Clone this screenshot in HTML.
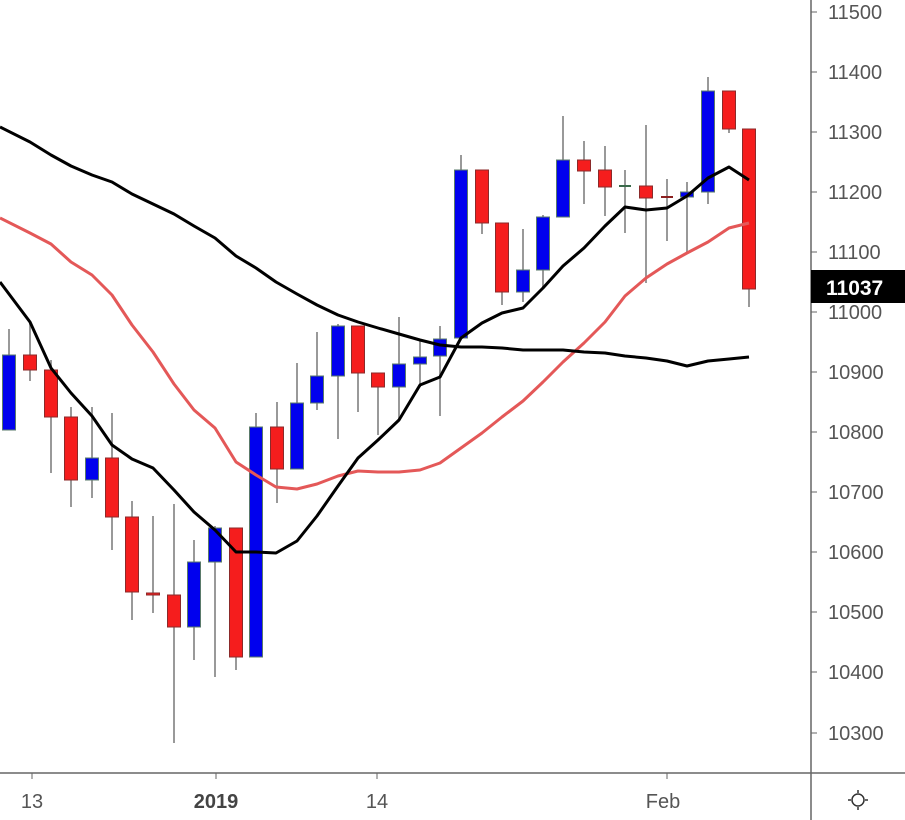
<!DOCTYPE html><html><head><style>body{margin:0;background:#fff}svg{display:block}text{font-family:"Liberation Sans",sans-serif}</style></head><body>
<svg width="905" height="820" xmlns="http://www.w3.org/2000/svg">
<rect width="905" height="820" fill="#fff"/>
<g stroke="#999" stroke-width="2">
<line x1="9" x2="9" y1="329" y2="430"/><line x1="30" x2="30" y1="322" y2="381"/><line x1="51" x2="51" y1="360" y2="473"/><line x1="71" x2="71" y1="407" y2="507"/><line x1="92" x2="92" y1="407" y2="498"/><line x1="112" x2="112" y1="413" y2="550"/><line x1="132" x2="132" y1="501" y2="620"/><line x1="153" x2="153" y1="516" y2="613"/><line x1="174" x2="174" y1="504" y2="743"/><line x1="194" x2="194" y1="540" y2="660"/><line x1="215" x2="215" y1="526" y2="677"/><line x1="236" x2="236" y1="528" y2="670"/><line x1="256" x2="256" y1="413" y2="657"/><line x1="277" x2="277" y1="402" y2="503"/><line x1="297" x2="297" y1="363" y2="469"/><line x1="317" x2="317" y1="332" y2="410"/><line x1="338" x2="338" y1="324" y2="439"/><line x1="358" x2="358" y1="326" y2="412"/><line x1="378" x2="378" y1="373" y2="435"/><line x1="399" x2="399" y1="317" y2="420"/><line x1="420" x2="420" y1="341" y2="387"/><line x1="440" x2="440" y1="326" y2="416"/><line x1="461" x2="461" y1="155" y2="338"/><line x1="482" x2="482" y1="170" y2="234"/><line x1="502" x2="502" y1="223" y2="305"/><line x1="523" x2="523" y1="229" y2="302"/><line x1="543" x2="543" y1="215" y2="288"/><line x1="563" x2="563" y1="116" y2="217"/><line x1="584" x2="584" y1="141" y2="204"/><line x1="605" x2="605" y1="146" y2="216"/><line x1="625" x2="625" y1="170" y2="233"/><line x1="646" x2="646" y1="125" y2="283"/><line x1="667" x2="667" y1="179" y2="241"/><line x1="687" x2="687" y1="182" y2="252"/><line x1="708" x2="708" y1="77" y2="204"/><line x1="729" x2="729" y1="91" y2="133"/><line x1="749" x2="749" y1="129" y2="307"/>
</g>
<g fill="#0000ee" stroke="#5a7a6a">
<rect x="2.5" y="355" width="13" height="75"/><rect x="85.5" y="458" width="13" height="22"/><rect x="187.5" y="562" width="13" height="65"/><rect x="208.5" y="528" width="13" height="34"/><rect x="249.5" y="427" width="13" height="230"/><rect x="290.5" y="403" width="13" height="66"/><rect x="310.5" y="376" width="13" height="27"/><rect x="331.5" y="326" width="13" height="50"/><rect x="392.5" y="364" width="13" height="23"/><rect x="413.5" y="357" width="13" height="7"/><rect x="433.5" y="339" width="13" height="17"/><rect x="454.5" y="170" width="13" height="168"/><rect x="516.5" y="270" width="13" height="22"/><rect x="536.5" y="217" width="13" height="53"/><rect x="556.5" y="160" width="13" height="57"/><rect x="680.5" y="192" width="13" height="5"/><rect x="701.5" y="91" width="13" height="101"/>
</g>
<g fill="#f51d1d" stroke="#8b2a2a">
<rect x="23.5" y="355" width="13" height="15"/><rect x="44.5" y="370" width="13" height="47"/><rect x="64.5" y="417" width="13" height="63"/><rect x="105.5" y="458" width="13" height="59"/><rect x="125.5" y="517" width="13" height="75"/><rect x="146.5" y="593" width="13" height="2"/><rect x="167.5" y="595" width="13" height="32"/><rect x="229.5" y="528" width="13" height="129"/><rect x="270.5" y="427" width="13" height="42"/><rect x="351.5" y="326" width="13" height="47"/><rect x="371.5" y="373" width="13" height="14"/><rect x="475.5" y="170" width="13" height="53"/><rect x="495.5" y="223" width="13" height="69"/><rect x="577.5" y="160" width="13" height="11"/><rect x="598.5" y="170" width="13" height="17"/><rect x="639.5" y="186" width="13" height="12"/><rect x="722.5" y="91" width="13" height="38"/><rect x="742.5" y="129" width="13" height="160"/>
</g>
<line x1="619" x2="631" y1="186" y2="186" stroke="#3a6a4a" stroke-width="2"/>
<line x1="661" x2="673" y1="197" y2="197" stroke="#8b2020" stroke-width="2"/>
<g fill="none" stroke-width="3" stroke-linejoin="round">
<polyline stroke="#e45858" points="0,218 30,233 51,244 71,262 92,275 112,295 132,325 153,352 174,384 194,410 215,428 236,462 256,475 276,487 297,489 317,484 338,476 358,471 378,472 399,472 420,470 440,463 461,448 482,433 502,417 523,401 543,382 563,362 584,343 605,322 625,296 646,278 667,264 687,253 708,242 729,228 749,223"/>
<polyline stroke="#000" points="0,127 30,142 51,155 71,166 92,175 112,182 132,194 153,204 174,214 194,226 215,238 236,256 256,268 276,282 297,294 317,305 338,315 358,322 378,328 399,334 420,340 440,345 461,347 482,347 502,348 523,350 543,350 563,350 584,352 605,353 625,356 646,358 667,361 687,366 708,361 729,359 749,357"/>
<polyline stroke="#000" points="0,282 30,322 51,368 71,393 92,416 112,445 132,459 153,468 174,490 194,512 215,530 236,552 256,552 276,553 297,541 317,516 338,486 358,458 378,440 399,420 420,385 440,377 461,338 482,323 502,313 523,308 543,288 563,266 584,248 605,226 625,207 646,210 667,208 687,196 708,178 729,167 749,180"/>
</g>
<line x1="811" y1="0" x2="811" y2="820" stroke="#666" stroke-width="1.5"/>
<line x1="0" y1="773" x2="905" y2="773" stroke="#666" stroke-width="1.5"/>
<g fill="#555" font-size="20">
<text x="828" y="19">11500</text><text x="828" y="79">11400</text><text x="828" y="139">11300</text><text x="828" y="199">11200</text><text x="828" y="259">11100</text><text x="828" y="319">11000</text><text x="828" y="379">10900</text><text x="828" y="439">10800</text><text x="828" y="499">10700</text><text x="828" y="559">10600</text><text x="828" y="619">10500</text><text x="828" y="679">10400</text><text x="828" y="740">10300</text>
</g>
<g stroke="#666"><line x1="811" x2="817" y1="12" y2="12"/><line x1="811" x2="817" y1="72" y2="72"/><line x1="811" x2="817" y1="132" y2="132"/><line x1="811" x2="817" y1="192" y2="192"/><line x1="811" x2="817" y1="252" y2="252"/><line x1="811" x2="817" y1="312" y2="312"/><line x1="811" x2="817" y1="372" y2="372"/><line x1="811" x2="817" y1="432" y2="432"/><line x1="811" x2="817" y1="492" y2="492"/><line x1="811" x2="817" y1="552" y2="552"/><line x1="811" x2="817" y1="612" y2="612"/><line x1="811" x2="817" y1="672" y2="672"/><line x1="811" x2="817" y1="733" y2="733"/>
<line x1="32" x2="32" y1="773" y2="779"/><line x1="216" x2="216" y1="773" y2="779"/><line x1="377" x2="377" y1="773" y2="779"/><line x1="667" x2="667" y1="773" y2="779"/></g>
<rect x="811" y="270" width="94" height="33" fill="#000"/>
<text x="826" y="295" fill="#fff" font-size="21" font-weight="bold">11037</text>
<g fill="#555" font-size="20"><text x="32" y="808" text-anchor="middle">13</text><text x="216" y="808" text-anchor="middle" font-weight="bold" fill="#444">2019</text><text x="377" y="808" text-anchor="middle">14</text><text x="663" y="808" text-anchor="middle">Feb</text></g>
<g stroke="#333" stroke-width="1.5" fill="none"><circle cx="858" cy="800" r="6"/><line x1="858" y1="790" x2="858" y2="793"/><line x1="858" y1="807" x2="858" y2="810"/><line x1="848" y1="800" x2="851" y2="800"/><line x1="865" y1="800" x2="868" y2="800"/></g>
</svg></body></html>
